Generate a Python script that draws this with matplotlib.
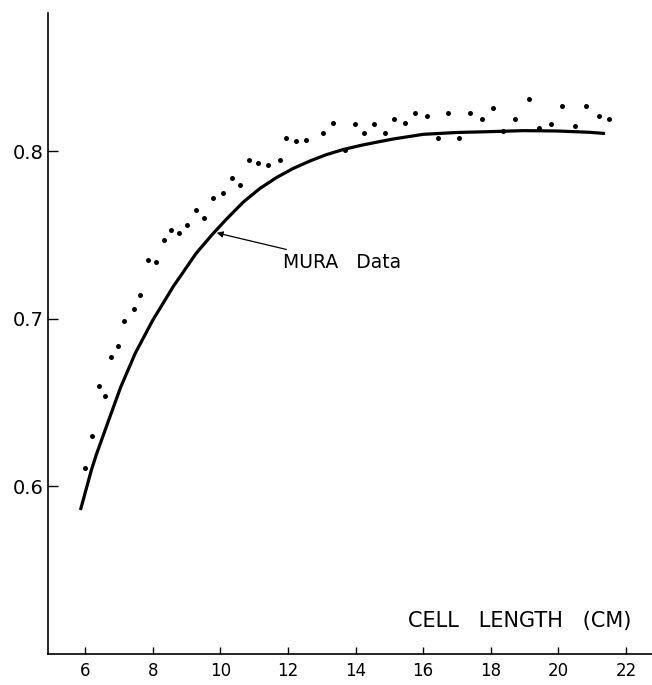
import numpy as np
import matplotlib
matplotlib.use("Agg")
import matplotlib.pyplot as plt

# measured points (dots)
data_x = [5.99, 6.20, 6.40, 6.58, 6.76, 6.98, 7.15, 7.44, 7.63, 7.86, 8.09, 8.32,
          8.54, 8.79, 9.02, 9.27, 9.53, 9.77, 10.08, 10.33, 10.59, 10.84, 11.12,
          11.41, 11.77, 11.95, 12.23, 12.52, 13.04, 13.34, 13.68, 13.98, 14.25,
          14.55, 14.86, 15.15, 15.47, 15.76, 16.11, 16.44, 16.73, 17.05, 17.38,
          17.74, 18.06, 18.37, 18.72, 19.12, 19.43, 19.79, 20.12, 20.50, 20.82,
          21.20, 21.51]
data_y = [0.611, 0.630, 0.660, 0.654, 0.677, 0.684, 0.699, 0.706, 0.714, 0.735,
          0.734, 0.747, 0.753, 0.751, 0.756, 0.765, 0.760, 0.772, 0.775, 0.784,
          0.780, 0.795, 0.793, 0.792, 0.795, 0.808, 0.806, 0.807, 0.811, 0.817,
          0.801, 0.816, 0.811, 0.816, 0.811, 0.819, 0.817, 0.823, 0.821, 0.808,
          0.823, 0.808, 0.823, 0.819, 0.826, 0.812, 0.819, 0.831, 0.814, 0.816,
          0.827, 0.815, 0.827, 0.821, 0.819]

# MURA curve
mura_x = [5.86, 6.18, 6.33, 6.69, 7.05, 7.48, 8.00, 8.60, 9.28, 9.74, 10.18,
          10.68, 11.17, 11.66, 12.15, 12.65, 13.14, 13.63, 14.13, 14.62, 15.11,
          16.00, 16.99, 17.97, 18.96, 19.95, 20.93, 21.38]
mura_y = [0.5859, 0.6095, 0.6190, 0.6392, 0.6592, 0.6794, 0.6992, 0.7191,
          0.7390, 0.7499, 0.7595, 0.7697, 0.7778, 0.7843, 0.7897, 0.7942,
          0.7980, 0.8010, 0.8034, 0.8054, 0.8073, 0.8101, 0.8112, 0.8117,
          0.8123, 0.8121, 0.8113, 0.8106]

xticks = [6, 8, 10, 12, 14, 16, 18, 20, 22]
yticks = [0.6, 0.7, 0.8]

plt.rcParams['font.family'] = ['DejaVu Sans']

fig = plt.figure(figsize=(6.52, 6.85), dpi=100)
ax = fig.add_axes([48/652, 31/685, 1 - 48/652, (654 - 13)/685])

ax.plot(mura_x, mura_y, color='black', linewidth=2.3, solid_capstyle='butt',
        solid_joinstyle='round')
ax.plot(data_x, data_y, 'o', color='black', markersize=3.6, markeredgewidth=0)

ax.annotate('MURA   Data', xy=(9.89, 0.7513), xytext=(11.85, 0.7335),
            fontsize=13.5, va='center', ha='left',
            arrowprops=dict(arrowstyle='-|>', color='black', lw=0.9,
                            mutation_scale=9, shrinkA=3, shrinkB=0))

ax.text(22.15, 0.5197, 'CELL   LENGTH   (CM)', fontsize=15, ha='right', va='center')

ax.set_xlim(4.9, 22.77)
ax.set_ylim(0.5, 0.8825)
ax.set_xticks(xticks)
ax.set_xticklabels([str(v) for v in xticks])
ax.set_yticks(yticks)
ax.set_yticklabels(['0.6', '0.7', '0.8'])

ax.spines['top'].set_visible(False)
ax.spines['right'].set_visible(False)
ax.spines['left'].set_linewidth(1.2)
ax.spines['bottom'].set_linewidth(1.2)
ax.tick_params(axis='x', direction='in', length=5, width=1, labelsize=12, pad=6)
ax.tick_params(axis='y', direction='in', length=7, width=1, labelsize=14, pad=3)

fig.savefig('out.png', dpi=100)
